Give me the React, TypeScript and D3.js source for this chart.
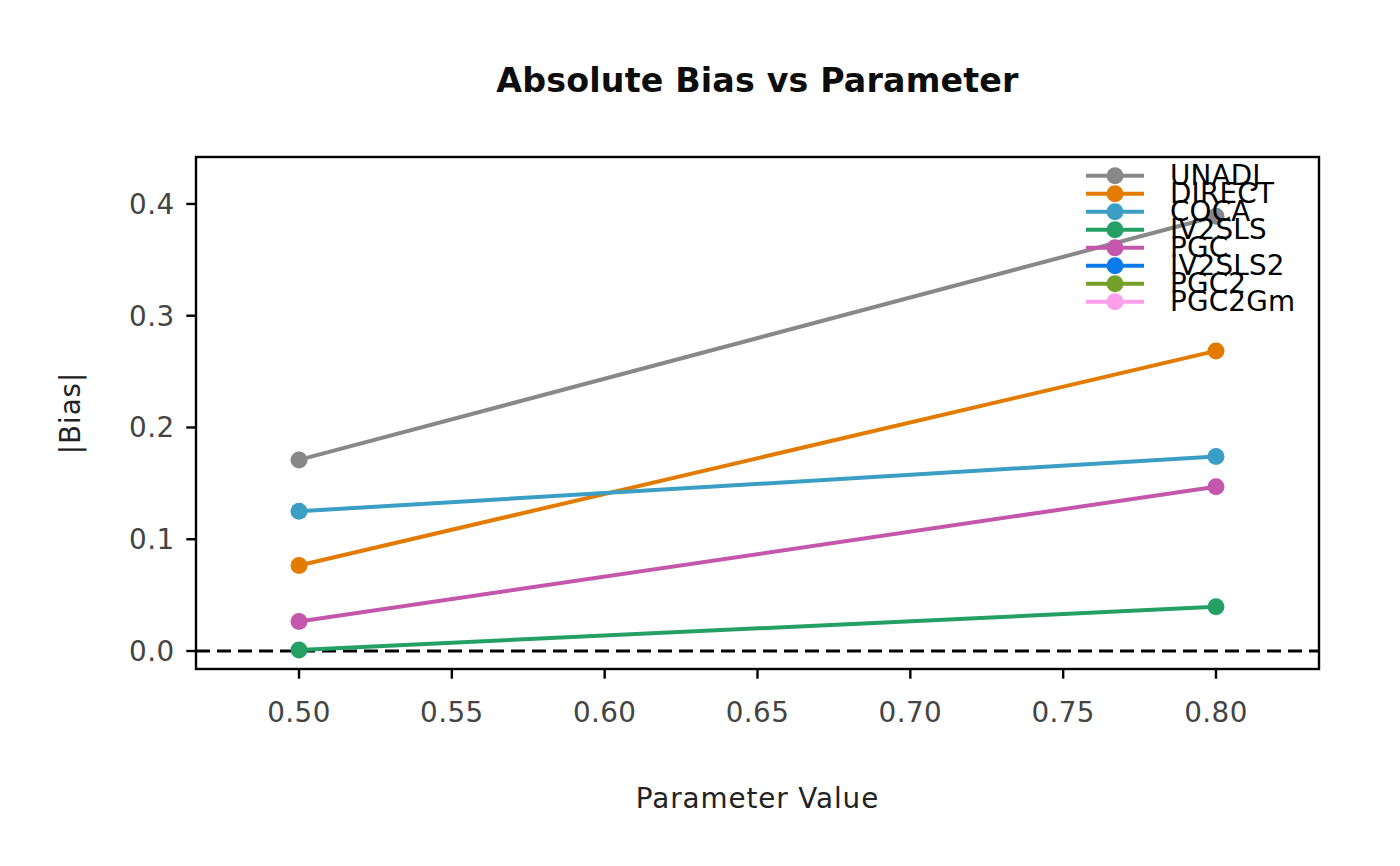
import React, { useEffect, useRef } from 'react';
import * as d3 from 'd3';

// Parameter values on the x axis
const paramValues = [0.5, 0.8];

// |Bias| per method (null = not estimated)
const methods = ['UNADJ', 'DIRECT', 'COCA', 'IV2SLS', 'PGC', 'IV2SLS2', 'PGC2', 'PGC2Gm'];
const unadjBias = [0.171, 0.389];
const directBias = [0.0765, 0.2685];
const cocaBias = [0.125, 0.174];
const iv2slsBias = [0.001, 0.0395];
const pgcBias = [0.0264, 0.147];
const iv2sls2Bias: (number | null)[] = [null, null];
const pgc2Bias: (number | null)[] = [null, null];
const pgc2GmBias: (number | null)[] = [null, null];

const methodColors = ['#888888', '#E27B00', '#3A9EC5', '#25A065', '#C457AB', '#0A7BEA', '#74A02A', '#FF9FEC'];

const yTicks = [0.0, 0.1, 0.2, 0.3, 0.4];
const xTicks = [0.5, 0.55, 0.6, 0.65, 0.7, 0.75, 0.8];

const W = 1400;
const H = 866;
const FONT = 'DejaVu Sans, sans-serif';

const App: React.FC = () => {
  const svgRef = useRef<SVGSVGElement>(null);

  useEffect(() => {
    if (!svgRef.current) return;
    const svg = d3.select(svgRef.current);
    svg.selectAll('*').remove();

    const left = 196, right = 1319, top = 157, bottom = 669;

    const x = d3.scaleLinear().domain([0.4663, 0.8337]).range([left, right]);
    const y = d3.scaleLinear().domain([-0.0161, 0.442]).range([bottom, top]);

    const series = [unadjBias, directBias, cocaBias, iv2slsBias, pgcBias, iv2sls2Bias, pgc2Bias, pgc2GmBias];

    svg.append('rect').attr('width', W).attr('height', H).attr('fill', '#ffffff');

    // Title
    svg.append('text')
      .attr('x', (left + right) / 2)
      .attr('y', 92)
      .attr('text-anchor', 'middle')
      .attr('font-family', FONT)
      .attr('font-weight', 'bold')
      .attr('font-size', 33.3)
      .attr('letter-spacing', '0.15px')
      .attr('fill', '#0d0d0d')
      .text('Absolute Bias vs Parameter');

    // Zero reference line
    svg.append('line')
      .attr('x1', left).attr('x2', right)
      .attr('y1', y(0)).attr('y2', y(0))
      .attr('stroke', '#000')
      .attr('stroke-width', 3.2)
      .attr('stroke-dasharray', '14,7');

    // Lines and points
    const line = d3.line<number | null>()
      .defined(d => d !== null)
      .x((_, i) => x(paramValues[i]))
      .y(d => y(d as number));

    series.forEach((vals, k) => {
      svg.append('path')
        .attr('d', line(vals) as string)
        .attr('fill', 'none')
        .attr('stroke', methodColors[k])
        .attr('stroke-width', 4);
      vals.forEach((v, i) => {
        if (v === null) return;
        svg.append('circle')
          .attr('cx', x(paramValues[i]))
          .attr('cy', y(v))
          .attr('r', 8.5)
          .attr('fill', methodColors[k]);
      });
    });

    // Frame
    svg.append('rect')
      .attr('x', left).attr('y', top)
      .attr('width', right - left).attr('height', bottom - top)
      .attr('fill', 'none')
      .attr('stroke', '#000')
      .attr('stroke-width', 2.4);

    // Y ticks
    yTicks.forEach(t => {
      svg.append('line')
        .attr('x1', left - 9.7).attr('x2', left)
        .attr('y1', y(t)).attr('y2', y(t))
        .attr('stroke', '#000').attr('stroke-width', 2.4);
      svg.append('text')
        .attr('x', left - 21.5)
        .attr('y', y(t) + 10)
        .attr('text-anchor', 'end')
        .attr('font-family', FONT)
        .attr('font-size', 27.8)
        .attr('letter-spacing', '0.4px')
        .attr('fill', '#444444')
        .text(d3.format('.1f')(t));
    });

    // X ticks
    xTicks.forEach(t => {
      svg.append('line')
        .attr('x1', x(t)).attr('x2', x(t))
        .attr('y1', bottom).attr('y2', bottom + 9.7)
        .attr('stroke', '#000').attr('stroke-width', 2.4);
      svg.append('text')
        .attr('x', x(t))
        .attr('y', 722)
        .attr('text-anchor', 'middle')
        .attr('font-family', FONT)
        .attr('font-size', 27.8)
        .attr('letter-spacing', '0.4px')
        .attr('fill', '#444444')
        .text(d3.format('.2f')(t));
    });

    // Axis labels
    svg.append('text')
      .attr('x', (left + right) / 2)
      .attr('y', 808)
      .attr('text-anchor', 'middle')
      .attr('font-family', FONT)
      .attr('font-size', 27.8)
      .attr('letter-spacing', '0.9px')
      .attr('fill', '#222222')
      .text('Parameter Value');

    svg.append('text')
      .attr('transform', `translate(80, ${(top + bottom) / 2}) rotate(-90)`)
      .attr('text-anchor', 'middle')
      .attr('font-family', FONT)
      .attr('font-size', 27.8)
      .attr('letter-spacing', '0.9px')
      .attr('fill', '#222222')
      .text('|Bias|');

    // Legend (drawn over the data, no frame)
    const legend = svg.append('g');
    methods.forEach((m, i) => {
      const ly = 175.7 + i * 18;
      legend.append('line')
        .attr('x1', 1086).attr('x2', 1144)
        .attr('y1', ly).attr('y2', ly)
        .attr('stroke', methodColors[i])
        .attr('stroke-width', 4);
      legend.append('circle')
        .attr('cx', 1115).attr('cy', ly)
        .attr('r', 8.5)
        .attr('fill', methodColors[i]);
      legend.append('text')
        .attr('x', 1170)
        .attr('y', ly + 9.5)
        .attr('font-family', FONT)
        .attr('font-size', 27.8)
        .attr('letter-spacing', '0.2px')
        .attr('fill', '#000000')
        .text(m);
    });
  }, []);

  return (
    <svg
      ref={svgRef}
      width={W}
      height={H}
      style={{ position: 'absolute', left: 0, top: 0 }}
    ></svg>
  );
};

export default App;
